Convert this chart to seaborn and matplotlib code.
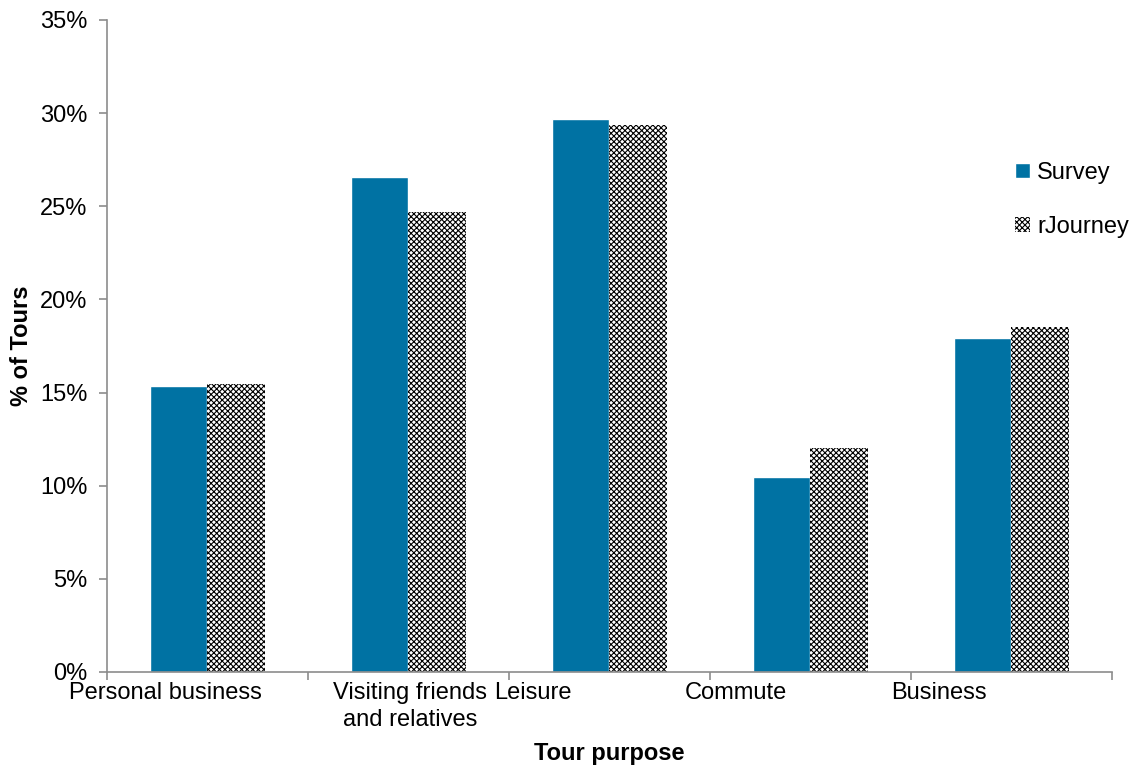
import pandas as pd
import matplotlib
matplotlib.use('Agg')
from matplotlib import pyplot as plt
from matplotlib.patches import Patch
import seaborn as sb

sb.set_style('white')
plt.rcParams['font.family'] = ['Liberation Sans', 'DejaVu Sans']
plt.rcParams['text.color'] = 'black'
plt.rcParams['xtick.bottom'] = True
plt.rcParams['ytick.left'] = True
plt.rcParams['hatch.linewidth'] = 0.8

# data
purposes = ['Personal business', 'Visiting friends\nand relatives', 'Leisure',
            'Commute', 'Business']
survey = [15.35, 26.55, 29.7, 10.45, 17.95]
rjourney = [15.45, 24.7, 29.35, 12.05, 18.5]
series = ['Survey', 'rJourney']

df = pd.DataFrame({
    'purpose': purposes * 2,
    'share': survey + rjourney,
    'source': ['Survey'] * len(purposes) + ['rJourney'] * len(purposes),
})

# plotting
fig = plt.figure(figsize=(11.33, 7.68), dpi=100)
ax = fig.add_axes([0.0944, 0.125, 0.887, 0.849])
sb.barplot(data=df, x='purpose', y='share', hue='source', hue_order=series,
           order=purposes, palette=['#0072A3', 'white'], width=0.57,
           saturation=1, ax=ax, legend=False)

# checker pattern on rJourney bars
n = len(purposes)
for p in ax.patches[n:2 * n]:
    p.set_hatch('xxxxxx')
    p.set_edgecolor('black')
    p.set_linewidth(0)

ax.set_ylim(0, 35)
ax.set_xlim(-0.5, n - 0.5)
ax.set_yticks(range(0, 36, 5))
ax.set_yticklabels([f'{v}%' for v in range(0, 36, 5)], fontsize=17,
                   color='black')
ax.set_xticks([i - 0.5 for i in range(n + 1)])
ax.set_xticklabels([])
ax.tick_params(axis='both', direction='out', length=6, width=1.2,
               color='#8c8c8c')
ax.tick_params(axis='y', pad=8)
for s in ['top', 'right']:
    ax.spines[s].set_visible(False)
for s in ['left', 'bottom']:
    ax.spines[s].set_color('#8c8c8c')
    ax.spines[s].set_linewidth(1.2)

# category labels (offset as in the original)
label_x = [-0.21, 1.01, 1.62, 2.63, 3.64]
for lx, lab in zip(label_x, purposes):
    ax.text(lx, -0.016, lab, transform=ax.get_xaxis_transform(),
            ha='center', va='top', fontsize=17, linespacing=1.25,
            color='black')

ax.set_xlabel('Tour purpose', fontsize=17, fontweight='bold', labelpad=41,
              color='black')
ax.set_ylabel('% of Tours', fontsize=17, fontweight='bold', labelpad=5,
              color='black')

# legend
handles = [Patch(facecolor='#0072A3', label='Survey'),
           Patch(facecolor='white', edgecolor='black', hatch='xxxxxx',
                 linewidth=0, label='rJourney')]
ax.legend(handles=handles, loc='upper left', bbox_to_anchor=(0.882, 0.815),
          frameon=False, fontsize=17, handlelength=0.65, handleheight=0.65,
          handletextpad=0.3, labelspacing=1.35)

plt.savefig('out.png', dpi=100)
